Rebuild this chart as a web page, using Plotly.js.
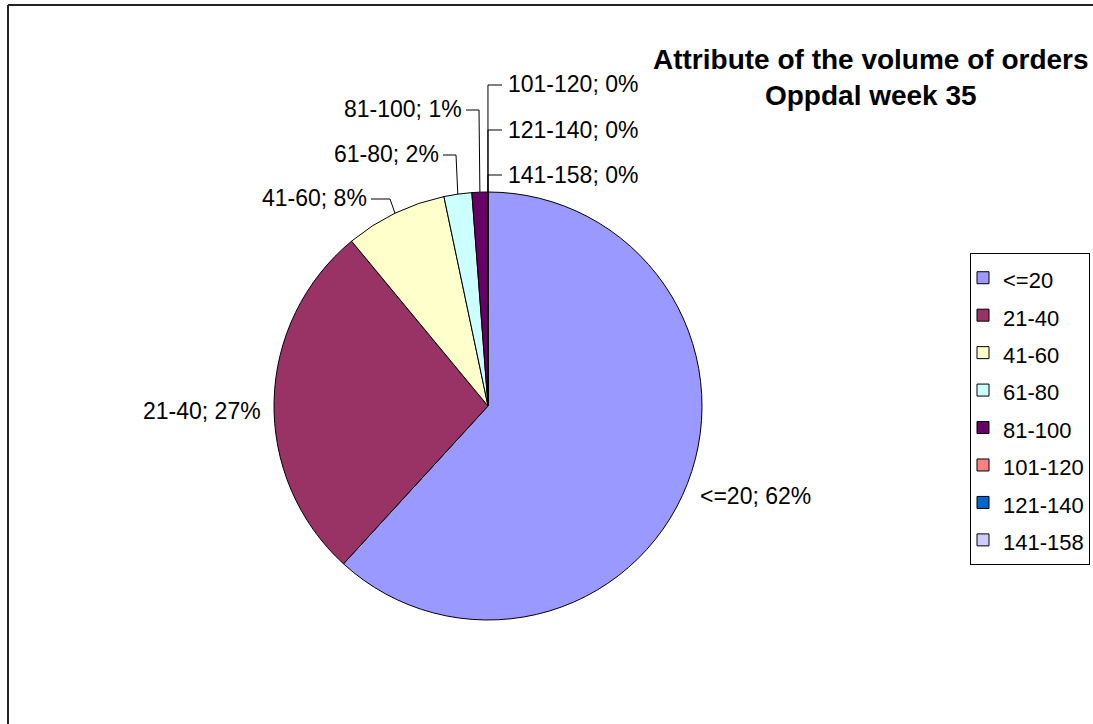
<!DOCTYPE html>
<html>
<head>
<meta charset="utf-8">
<script src="https://cdn.plot.ly/plotly-3.0.1.min.js"></script>
<style>html,body{margin:0;padding:0;background:#fff;}#chart{width:1093px;height:724px;}</style>
</head>
<body>
<div id="chart"></div>
<script>
// ---- Data ----
const categories = ['<=20', '21-40', '41-60', '61-80', '81-100', '101-120', '121-140', '141-158'];
const orderShares = [61.8, 27.2, 7.7, 2.1, 1.2, 0.001, 0.001, 0.001];
const sliceColors = ['#9999FF', '#993366', '#FFFFCC', '#CCFFFF', '#660066', '#FF8080', '#0066CC', '#CCCCFF'];
const chartTitle = 'Attribute of the volume of orders<br>Oppdal week 35';

// ---- Layout constants (pixels) ----
const W = 1093, H = 724;
const cx = 488, cy = 406, r = 214;
const FONT = 'Liberation Sans, Arial, sans-serif';
const px = x => x / W;
const py = y => 1 - y / H;

// label placement (layout only): anchor x, y, side, optional elbow x
const labelPlace = [
  {x: 698, y: 496, side: 'left'},
  {x: 263, y: 411, side: 'right'},
  {x: 369, y: 198, side: 'right', lineY: 199, elbowX: 390},
  {x: 441, y: 154, side: 'right', lineY: 155, elbowX: 456},
  {x: 464, y: 109, side: 'right', lineY: 110, elbowX: 479},
  {x: 506, y: 84, side: 'left', lineY: 85, tickX: 502},
  {x: 506, y: 130, side: 'left', lineY: 130, tickX: 502},
  {x: 506, y: 175, side: 'left', lineY: 175, tickX: 502}
];

const total = orderShares.reduce((a, b) => a + b, 0);
const annotations = [];
const shapes = [
  {type: 'line', xref: 'paper', yref: 'paper', x0: px(8), x1: 1, y0: py(5), y1: py(5), line: {color: '#222', width: 2}},
  {type: 'line', xref: 'paper', yref: 'paper', x0: px(8), x1: px(8), y0: 0, y1: py(5), line: {color: '#222', width: 2}}
];

let cum = 0;
orderShares.forEach((v, i) => {
  const mid = (cum + v / 2) / total * 2 * Math.PI; // clockwise from 12 o'clock
  cum += v;
  const ex = cx + r * Math.sin(mid);
  const ey = cy - r * Math.cos(mid);
  const pct = Math.round(v / total * 100);
  const lp = labelPlace[i];
  annotations.push({
    xref: 'paper', yref: 'paper', x: px(lp.x), y: py(lp.y),
    xanchor: lp.side, yanchor: 'middle', showarrow: false,
    text: categories[i].replace('<', '&lt;') + '; ' + pct + '%',
    font: {family: FONT, size: 23, color: '#000'}
  });
  let path = null;
  if (lp.elbowX !== undefined) {
    path = `M${px(lp.x + 2)},${py(lp.lineY)} L${px(lp.elbowX)},${py(lp.lineY)} L${px(ex)},${py(ey)}`;
  } else if (lp.tickX !== undefined) {
    path = `M${px(lp.tickX)},${py(lp.lineY)} L${px(ex)},${py(lp.lineY)} L${px(ex)},${py(ey)}`;
  }
  if (path) {
    shapes.push({type: 'path', xref: 'paper', yref: 'paper', path: path, line: {color: '#000', width: 1}});
  }
});

annotations.push({
  xref: 'paper', yref: 'paper', x: px(871), y: py(77),
  xanchor: 'center', yanchor: 'middle', showarrow: false,
  text: '<b>' + chartTitle.replace('<br>', '</b><br><b>') + '</b>',
  font: {family: FONT, size: 28, color: '#000'}
});

const trace = {
  type: 'pie',
  labels: categories.map(c => '<span style="font-size:22px">' + c.replace('<', '&lt;') + '</span>'),
  values: orderShares,
  sort: false,
  direction: 'clockwise',
  rotation: 0,
  marker: {colors: sliceColors, line: {color: '#000', width: 1}},
  textinfo: 'none',
  hoverinfo: 'none',
  automargin: false,
  domain: {x: [(cx - r) / W, (cx + r) / W], y: [(H - cy - r) / H, (H - cy + r) / H]}
};

const layout = {
  width: W, height: H,
  margin: {l: 0, r: 0, t: 0, b: 0},
  paper_bgcolor: '#fff',
  showlegend: true,
  legend: {
    x: px(1090), xanchor: 'right', y: py(253), yanchor: 'top',
    bordercolor: '#000', borderwidth: 1, bgcolor: '#fff',
    font: {family: FONT, size: 26.5, color: '#000'},
    indentation: -8,
    traceorder: 'normal'
  },
  annotations: annotations,
  shapes: shapes
};

Plotly.newPlot('chart', [trace], layout, {displayModeBar: false, staticPlot: true});
</script>
</body>
</html>
